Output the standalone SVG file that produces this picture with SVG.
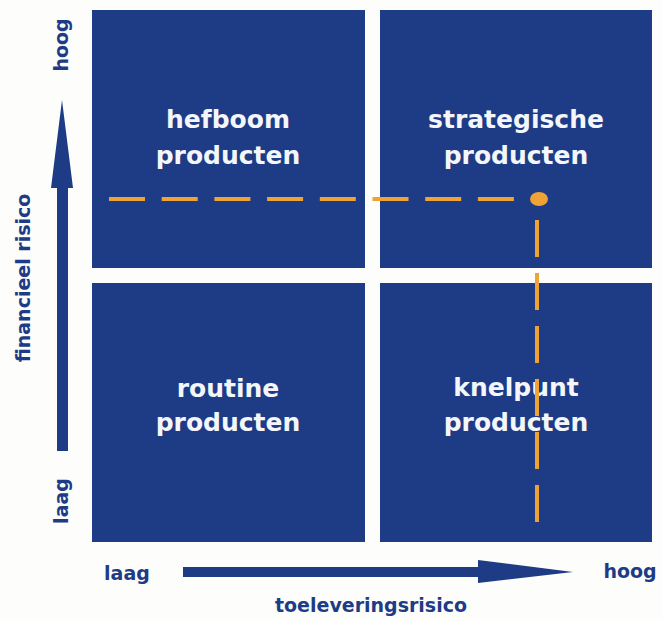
<svg xmlns="http://www.w3.org/2000/svg" width="662" height="619" viewBox="0 0 662 619">
  <style>
    .quad { fill: #1E3B86; }
    .qtext { fill: #F4F6FA; font-family: "DejaVu Sans", "Liberation Sans", sans-serif; font-weight: bold; font-size: 25px; text-anchor: middle; }
    .axis { fill: #1E3B86; }
    .atext { fill: #1E3B86; font-family: "DejaVu Sans", "Liberation Sans", sans-serif; font-weight: bold; font-size: 19px; text-anchor: middle; }
    .dash { stroke: #EFA236; stroke-width: 4; fill: none; }
  </style>
  <rect width="662" height="619" fill="#FDFDFB"/>

  <g id="hefboom">
    <rect class="quad" x="92" y="10" width="273" height="258"/>
    <text class="qtext" x="228" y="128">hefboom</text>
    <text class="qtext" x="228" y="164">producten</text>
  </g>
  <g id="strategische">
    <rect class="quad" x="380" y="10" width="272" height="258"/>
    <text class="qtext" x="516" y="128">strategische</text>
    <text class="qtext" x="516" y="164">producten</text>
  </g>
  <g id="routine">
    <rect class="quad" x="92" y="283" width="273" height="259"/>
    <text class="qtext" x="228" y="397">routine</text>
    <text class="qtext" x="228" y="431">producten</text>
  </g>
  <g id="knelpunt">
    <rect class="quad" x="380" y="283" width="272" height="259"/>
    <text class="qtext" x="516" y="396">knelpunt</text>
    <text class="qtext" x="516" y="431">producten</text>
  </g>

  <g id="y-axis">
    <rect class="axis" x="57" y="186" width="11" height="265"/>
    <polygon class="axis" points="51,188 62,100 73,188"/>
    <text class="atext" transform="translate(68,45) rotate(-90)">hoog</text>
    <text class="atext" font-size="18" transform="translate(30,278) rotate(-90)">financieel risico</text>
    <text class="atext" transform="translate(68,501) rotate(-90)">laag</text>
  </g>

  <g id="x-axis">
    <rect class="axis" x="183" y="567" width="297" height="10"/>
    <polygon class="axis" points="478,560 573,572 478,583"/>
    <text class="atext" x="127" y="580">laag</text>
    <text class="atext" x="630" y="578">hoog</text>
    <text class="atext" font-size="18" x="371" y="612">toeleveringsrisico</text>
  </g>

  <g id="connectors">
    <line class="dash" x1="109" y1="199" x2="514" y2="199" stroke-dasharray="36 16.7"/>
    <line class="dash" x1="537" y1="220" x2="537" y2="523" stroke-width="3.5" stroke-dasharray="37 16"/>
    <ellipse cx="539" cy="199" rx="9" ry="7" fill="#EFA236"/>
  </g>
</svg>
